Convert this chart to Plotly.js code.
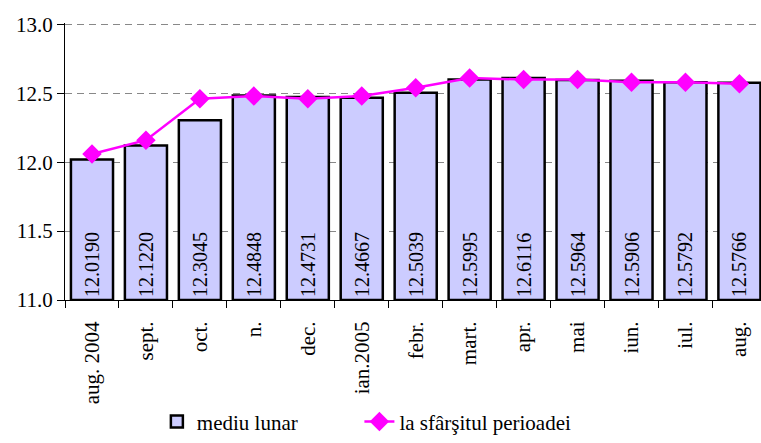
<!DOCTYPE html>
<html><head><meta charset="utf-8">
<script src="https://cdn.plot.ly/plotly-3.0.1.min.js"></script>
<style>html,body{margin:0;padding:0;background:#fff}#chart{width:761px;height:443px}</style>
</head><body><div id="chart"></div>
<script>
const categories = ["aug. 2004","sept.","oct.","n.","dec.","ian.2005","febr.","mart.","apr.","mai","iun.","iul.","aug."];
const mediuLunar = [12.0190,12.1220,12.3045,12.4848,12.4731,12.4667,12.5039,12.5995,12.6116,12.5964,12.5906,12.5792,12.5766];
const sfarsitPerioadei = [12.06,12.16,12.46,12.48,12.46,12.48,12.54,12.61,12.60,12.60,12.58,12.58,12.57];
const yTicks = [11.0,11.5,12.0,12.5,13.0];
const axisBase = 11.0;

const serifFont = "Liberation Serif, Times New Roman, serif";
const traces = [
  {type:'bar', x:categories, base:axisBase, y:mediuLunar.map(v=>v-axisBase), name:'mediu lunar', legend:'legend',
   marker:{color:'#CCCCFF', line:{color:'#000', width:2.5}},
   text:mediuLunar.map(v=>v.toFixed(4)), textposition:'inside', insidetextanchor:'start', textangle:-90,
   textfont:{family:serifFont, size:20, color:'#000'}, constraintext:'none'},
  {type:'scatter', mode:'lines+markers', x:categories, y:sfarsitPerioadei, name:'la sfârşitul perioadei', legend:'legend2',
   line:{color:'#FF00FF', width:2.5}, marker:{symbol:'diamond', size:15, color:'#FF00FF'}, cliponaxis:false}
];
const legendFont = {family:serifFont, size:21, color:'#000'};
const layout = {
  width:761, height:443, margin:{l:65, r:0, t:23, b:137},
  paper_bgcolor:'#fff', plot_bgcolor:'#fff', bargap:0.22, showlegend:true,
  font:{family:serifFont, size:21, color:'#000'},
  xaxis:{type:'category', range:[-0.5,12.4], tickson:'boundaries', ticks:'outside', ticklen:7, tickcolor:'#000',
    tickangle:-90, showline:true, linecolor:'#000', linewidth:1, showgrid:false, ticklabelstandoff:12},
  yaxis:{range:[11,13.01], tickvals:yTicks, ticktext:yTicks.map(v=>v.toFixed(1)), ticks:'outside', ticklen:7, tickcolor:'#000',
    showline:true, linecolor:'#000', linewidth:1, showgrid:true, gridcolor:'#888', griddash:'7px,5px', gridwidth:1,
    zeroline:false},
  legend:{orientation:'h', x:0.132, xanchor:'left', y:-0.44, yanchor:'middle', bgcolor:'rgba(0,0,0,0)', font:legendFont},
  legend2:{orientation:'h', x:0.423, xanchor:'left', y:-0.44, yanchor:'middle', bgcolor:'rgba(0,0,0,0)', font:legendFont}
};
Plotly.newPlot('chart', traces, layout, {displayModeBar:false, staticPlot:true});
</script></body></html>
